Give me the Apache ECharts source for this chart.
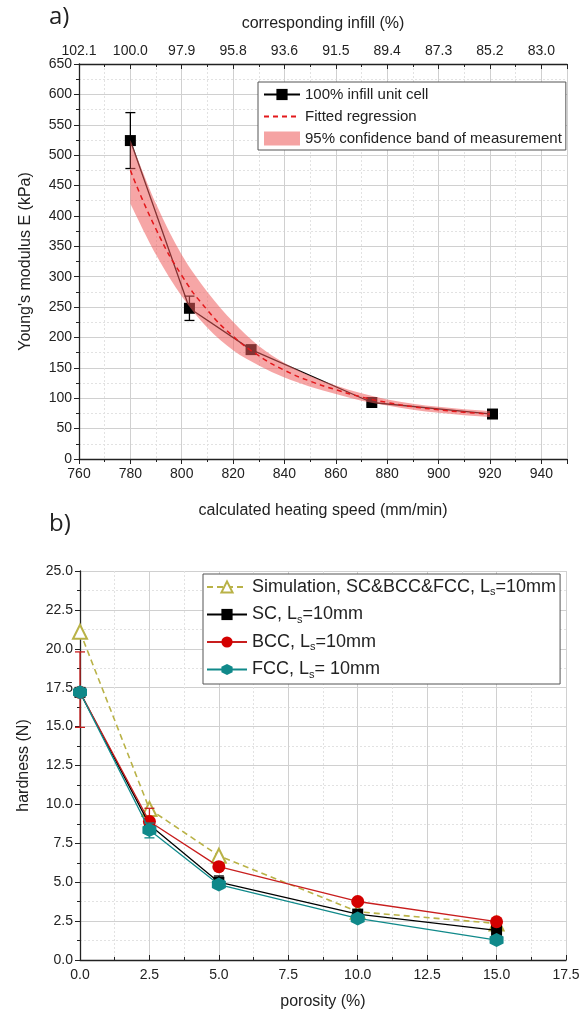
<!DOCTYPE html>
<html>
<head>
<meta charset="utf-8">
<script src="https://cdn.jsdelivr.net/npm/echarts@6/dist/echarts.min.js"></script>
<style>
  html, body { margin: 0; padding: 0; background: #fff; }
  #main { width: 587px; height: 1019px; }
</style>
</head>
<body>
<div id="main"></div>
<script>
// ---- a) Young's modulus vs heating speed ----
var speed = [780, 803, 827, 874, 921];          // mm/min
var modulus = [524, 248, 180, 93, 74];          // kPa
var modErrLow = [478, 228, 174, 89, 71];
var modErrHigh = [570, 268, 186, 97, 78];
// fitted regression + 95% band
var fitSpeed = [780, 790, 800, 810, 820, 830, 840, 850, 860, 870, 880, 890, 900, 910, 920];
var fitValue = [475, 378, 302, 245, 202, 170, 146, 128, 114, 102, 93, 86, 81, 77, 74];
var bandLow  = [420, 336, 268, 216, 179, 154, 134, 119, 107, 96, 88, 81, 76, 72, 69];
var bandHigh = [525, 420, 336, 275, 226, 186, 158, 137, 121, 108, 98, 91, 86, 82, 79];
// top axis: corresponding infill at 760, 780, ... 940
var infillLabels = ['102.1', '100.0', '97.9', '95.8', '93.6', '91.5', '89.4', '87.3', '85.2', '83.0'];

// ---- b) hardness vs porosity ----
var porosity = [0, 2.5, 5, 10, 15];
var simHardness = [21.1, 9.7, 6.7, 3.1, 2.35];
var scHardness  = [17.2, 8.7, 5.0, 2.95, 1.9];
var bccHardness = [17.2, 8.9, 6.0, 3.76, 2.46];
var fccHardness = [17.2, 8.35, 4.85, 2.67, 1.28];
var scErr  = [[0, 17.0, 17.4], [2.5, 8.5, 8.9], [5, 4.6, 5.4], [10, 2.8, 3.1], [15, 1.7, 2.1]];
var bccErr = [[0, 14.95, 19.8], [2.5, 8.2, 9.75], [5, 5.8, 6.2], [10, 3.6, 3.9], [15, 2.3, 2.6]];
var fccErr = [[0, 17.0, 17.4], [2.5, 7.85, 8.8], [5, 4.7, 5.0], [10, 2.55, 2.8], [15, 1.15, 1.4]];

var FONT = 'Liberation Sans';
var TXT = '#222';
var hexagon = 'path://M0,-10 L8.66,-5 L8.66,5 L0,10 L-8.66,5 L-8.66,-5 Z';

function pairs(xs, ys) {
    return xs.map(function (x, i) { return [x, ys[i]]; });
}

// 误差棒
function errorBar(params, api) {
    var x = api.value(0);
    var lo = api.coord([x, api.value(1)]);
    var hi = api.coord([x, api.value(2)]);
    var w = 5;
    var style = { stroke: api.visual('color'), lineWidth: 1.3 };
    return {
        type: 'group',
        children: [
            { type: 'line', shape: { x1: lo[0], y1: lo[1], x2: hi[0], y2: hi[1] }, style: style },
            { type: 'line', shape: { x1: lo[0] - w, y1: lo[1], x2: lo[0] + w, y2: lo[1] }, style: style },
            { type: 'line', shape: { x1: hi[0] - w, y1: hi[1], x2: hi[0] + w, y2: hi[1] }, style: style }
        ]
    };
}

// 经过各点的平滑曲线段 (Catmull-Rom -> Bezier)
function smoothSeg(p) {
    var s = '';
    for (var i = 0; i < p.length - 1; i++) {
        var p0 = p[Math.max(i - 1, 0)], p1 = p[i], p2 = p[i + 1], p3 = p[Math.min(i + 2, p.length - 1)];
        var c1x = p1[0] + (p2[0] - p0[0]) / 6, c1y = p1[1] + (p2[1] - p0[1]) / 6;
        var c2x = p2[0] - (p3[0] - p1[0]) / 6, c2y = p2[1] - (p3[1] - p1[1]) / 6;
        s += ' C' + c1x + ',' + c1y + ' ' + c2x + ',' + c2y + ' ' + p2[0] + ',' + p2[1];
    }
    return s;
}

// 置信带：上沿 + 反向下沿围成的区域
function confBand(params, api) {
    if (params.dataIndex !== 0) return null;
    var up = [], low = [];
    for (var i = 0; i < fitSpeed.length; i++) {
        up.push(api.coord([fitSpeed[i], bandHigh[i]]));
        low.push(api.coord([fitSpeed[i], bandLow[i]]));
    }
    low.reverse();
    var d = 'M' + up[0][0] + ',' + up[0][1] + smoothSeg(up) +
        ' L' + low[0][0] + ',' + low[0][1] + smoothSeg(low) + ' Z';
    return {
        type: 'path',
        shape: { pathData: d },
        style: { fill: 'rgba(238,92,92,0.55)', stroke: 'none' }
    };
}

var majorGrid = { show: true, lineStyle: { color: '#d0d0d0', width: 1 } };
var minorGrid = { show: true, lineStyle: { color: '#e2e2e2', width: 1, type: [2, 2] } };
var axisLine = { show: true, lineStyle: { color: '#222', width: 1.3 } };
var label = { color: TXT, fontFamily: FONT, fontSize: 14 };
var nameStyle = { color: TXT, fontFamily: FONT, fontSize: 16 };

var subRich = {
    n: { fontFamily: FONT, fontSize: 18, color: TXT },
    s: { fontFamily: FONT, fontSize: 11, color: TXT, padding: [10, 0, 0, 0] }
};
var legendNames = {
    'sim': 'Simulation, SC&BCC&FCC, L',
    'sc': 'SC, L',
    'bcc': 'BCC, L',
    'fcc': 'FCC, L'
};
var legendTail = { 'sim': '=10mm', 'sc': '=10mm', 'bcc': '=10mm', 'fcc': '= 10mm' };

var myChart = echarts.init(document.getElementById('main'));

var option = {
    animation: false,
    textStyle: { fontFamily: FONT },
    graphic: [
        { type: 'text', left: 49, top: 5, style: { text: 'a)', font: '24px "Open Sans"', fill: TXT } },
        { type: 'text', left: 49, top: 512, style: { text: 'b)', font: '24px "Open Sans"', fill: TXT } }
    ],
    grid: [
        { left: 79, right: 20, top: 64, height: 395 },
        { left: 80, right: 21, top: 571, height: 389 }
    ],
    legend: [
        {
            left: 258, top: 82,
            orient: 'vertical',
            itemWidth: 36, itemHeight: 14, itemGap: 7,
            padding: [5, 4, 4, 5],
            borderColor: '#555', borderWidth: 1, backgroundColor: '#fff',
            textStyle: { fontFamily: FONT, fontSize: 15, color: TXT },
            data: [
                { name: '100% infill unit cell' },
                { name: 'Fitted regression', itemStyle: { opacity: 0 } },
                { name: '95% confidence band of measurement', icon: 'rect' }
            ]
        },
        {
            left: 203, top: 574,
            orient: 'vertical',
            itemWidth: 40, itemHeight: 14, itemGap: 8,
            padding: [4, 4, 4, 3],
            borderColor: '#555', borderWidth: 1, backgroundColor: '#fff',
            textStyle: { fontFamily: FONT, fontSize: 18, color: TXT, rich: subRich },
            formatter: function (name) {
                return '{n|' + legendNames[name] + '}{s|s}{n|' + legendTail[name] + '}';
            },
            data: ['sim', 'sc', 'bcc', 'fcc']
        }
    ],
    xAxis: [
        {
            gridIndex: 0, type: 'value', min: 760, max: 950, interval: 20,
            name: 'calculated heating speed (mm/min)', nameLocation: 'middle', nameGap: 44,
            nameTextStyle: nameStyle,
            axisLine: axisLine,
            axisTick: { show: true, inside: false, length: 5, lineStyle: { color: '#222' } },
            minorTick: { show: true, splitNumber: 2, length: 3, lineStyle: { color: '#222' } },
            axisLabel: Object.assign({ margin: 8, formatter: function (v) { return v === 950 ? '' : v; } }, label),
            splitLine: majorGrid,
            minorSplitLine: minorGrid
        },
        {
            gridIndex: 0, type: 'value', position: 'top', min: 760, max: 950, interval: 20,
            name: 'corresponding infill (%)', nameLocation: 'middle', nameGap: 32,
            nameTextStyle: nameStyle,
            axisLine: axisLine,
            axisTick: { show: true, inside: true, length: 5, lineStyle: { color: '#222' } },
            minorTick: { show: true, splitNumber: 2, length: 3, lineStyle: { color: '#222' } },
            axisLabel: Object.assign({
                margin: 6,
                formatter: function (v) {
                    var i = Math.round((v - 760) / 20);
                    return v === 950 ? '' : (infillLabels[i] || '');
                }
            }, label),
            splitLine: { show: false }
        },
        {
            gridIndex: 1, type: 'value', min: 0, max: 17.5, interval: 2.5,
            name: 'porosity (%)', nameLocation: 'middle', nameGap: 34,
            nameTextStyle: nameStyle,
            axisLine: axisLine,
            axisTick: { show: true, inside: true, length: 5, lineStyle: { color: '#222' } },
            minorTick: { show: true, splitNumber: 2, length: 3, lineStyle: { color: '#222' } },
            axisLabel: Object.assign({ margin: 8, formatter: function (v) { return v.toFixed(1); } }, label),
            splitLine: majorGrid,
            minorSplitLine: minorGrid
        }
    ],
    yAxis: [
        {
            gridIndex: 0, type: 'value', min: 0, max: 650, interval: 50,
            name: "Young's modulus E (kPa)", nameLocation: 'middle', nameGap: 45,
            nameTextStyle: nameStyle,
            axisLine: axisLine,
            axisTick: { show: true, inside: false, length: 5, lineStyle: { color: '#222' } },
            minorTick: { show: true, splitNumber: 2, length: 3, lineStyle: { color: '#222' } },
            axisLabel: Object.assign({ margin: 7 }, label),
            splitLine: majorGrid,
            minorSplitLine: minorGrid
        },
        {
            gridIndex: 1, type: 'value', min: 0, max: 25, interval: 2.5,
            name: 'hardness (N)', nameLocation: 'middle', nameGap: 48,
            nameTextStyle: nameStyle,
            axisLine: axisLine,
            axisTick: { show: true, inside: false, length: 5, lineStyle: { color: '#222' } },
            minorTick: { show: true, splitNumber: 2, length: 3, lineStyle: { color: '#222' } },
            axisLabel: Object.assign({ margin: 7, formatter: function (v) { return v.toFixed(1); } }, label),
            splitLine: majorGrid,
            minorSplitLine: minorGrid
        }
    ],
    series: [
        // ---- a) ----
        {
            name: '100% infill unit cell', type: 'line',
            xAxisIndex: 0, yAxisIndex: 0,
            data: pairs(speed, modulus),
            symbol: 'rect', symbolSize: 11,
            itemStyle: { color: '#000' },
            lineStyle: { color: '#000', width: 1.3 },
            z: 3
        },
        {
            name: 'modErr', type: 'custom',
            xAxisIndex: 0, yAxisIndex: 0,
            renderItem: errorBar,
            itemStyle: { color: '#000' },
            encode: { x: 0, y: [1, 2] },
            data: speed.map(function (x, i) { return [x, modErrLow[i], modErrHigh[i]]; }),
            z: 3
        },
        {
            name: '95% confidence band of measurement', type: 'custom',
            xAxisIndex: 0, yAxisIndex: 0,
            renderItem: confBand,
            itemStyle: { color: '#f5a3a3' },
            encode: { x: 0, y: [1, 2] },
            data: fitSpeed.map(function (x, i) { return [x, bandLow[i], bandHigh[i]]; }),
            z: 4
        },
        {
            name: 'Fitted regression', type: 'line',
            xAxisIndex: 0, yAxisIndex: 0,
            symbol: 'none', smooth: true,
            itemStyle: { color: '#e3181b' },
            lineStyle: { color: '#e3181b', width: 1.5, type: [5, 4] },
            data: pairs(fitSpeed, fitValue),
            z: 5
        },
        // ---- b) ----
        {
            name: 'sim', type: 'line',
            xAxisIndex: 2, yAxisIndex: 1,
            data: pairs(porosity, simHardness),
            symbol: 'emptyTriangle', symbolSize: 14,
            itemStyle: { color: '#b9b247', borderWidth: 1.3 },
            lineStyle: { color: '#b9b247', width: 1.6, type: [6, 4] },
            z: 3
        },
        {
            name: 'sc', type: 'line',
            xAxisIndex: 2, yAxisIndex: 1,
            data: pairs(porosity, scHardness),
            symbol: 'rect', symbolSize: 11,
            itemStyle: { color: '#000' },
            lineStyle: { color: '#000', width: 1.3 },
            z: 4
        },
        {
            name: 'bcc', type: 'line',
            xAxisIndex: 2, yAxisIndex: 1,
            data: pairs(porosity, bccHardness),
            symbol: 'circle', symbolSize: 13,
            itemStyle: { color: '#d40000' },
            lineStyle: { color: '#c81e1e', width: 1.3 },
            z: 5
        },
        {
            name: 'fcc', type: 'line',
            xAxisIndex: 2, yAxisIndex: 1,
            data: pairs(porosity, fccHardness),
            symbol: hexagon, symbolSize: 14,
            itemStyle: { color: '#10898a' },
            lineStyle: { color: '#10898a', width: 1.3 },
            z: 6
        },
        {
            name: 'scErr', type: 'custom', xAxisIndex: 2, yAxisIndex: 1,
            renderItem: errorBar, itemStyle: { color: '#000' },
            encode: { x: 0, y: [1, 2] }, data: scErr, z: 4
        },
        {
            name: 'bccErr', type: 'custom', xAxisIndex: 2, yAxisIndex: 1,
            renderItem: errorBar, itemStyle: { color: '#c81e1e' },
            encode: { x: 0, y: [1, 2] }, data: bccErr, z: 5
        },
        {
            name: 'fccErr', type: 'custom', xAxisIndex: 2, yAxisIndex: 1,
            renderItem: errorBar, itemStyle: { color: '#10898a' },
            encode: { x: 0, y: [1, 2] }, data: fccErr, z: 6
        }
    ]
};

myChart.setOption(option, true);
</script>
</body>
</html>
